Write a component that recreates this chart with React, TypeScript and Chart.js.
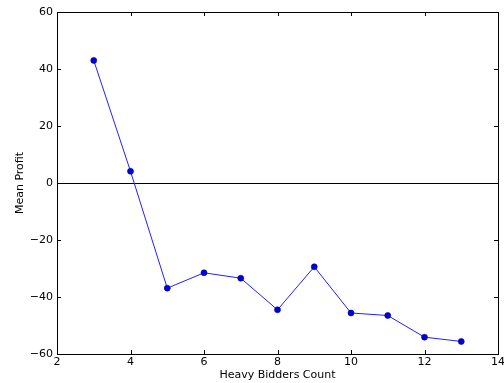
import React, { useEffect, useRef } from "react";
import { Chart, registerables } from "chart.js";

Chart.register(...registerables);

// Mean profit per number of heavy bidders
const bidderCounts = [3, 4, 5, 6, 7, 8, 9, 10, 11, 12, 13];
const meanProfit = [43.0, 4.1, -36.9, -31.5, -33.4, -44.5, -29.4, -45.6, -46.5, -54.1, -55.6];
const xTicks = [2, 4, 6, 8, 10, 12, 14];
const yTicks = [-60, -40, -20, 0, 20, 40, 60];

const FONT = "'DejaVu Sans', sans-serif";
const fmt = (v: number) => (v < 0 ? "\u2212" + Math.abs(v) : String(v));

// Frame, inward tick marks on every side and the zero reference line
const framePlugin = {
  id: "frame",
  afterDatasetsDraw(chart: any) {
    const { ctx, chartArea: a, scales } = chart;
    const xs = scales.x;
    const ys = scales.y;
    ctx.save();
    ctx.strokeStyle = "#000";
    ctx.lineWidth = 1;
    const tl = 4;
    ctx.beginPath();
    for (const v of xTicks) {
      const px = Math.round(xs.getPixelForValue(v)) + 0.5;
      ctx.moveTo(px, a.bottom);
      ctx.lineTo(px, a.bottom - tl);
      ctx.moveTo(px, a.top);
      ctx.lineTo(px, a.top + tl);
    }
    for (const v of yTicks) {
      const py = Math.round(ys.getPixelForValue(v)) + 0.5;
      ctx.moveTo(a.left, py);
      ctx.lineTo(a.left + tl, py);
      ctx.moveTo(a.right, py);
      ctx.lineTo(a.right - tl, py);
    }
    ctx.stroke();
    ctx.strokeRect(Math.round(a.left) + 0.5, Math.round(a.top) + 0.5, Math.round(a.right - a.left), Math.round(a.bottom - a.top));
    ctx.restore();
  },
  beforeDatasetsDraw(chart: any) {
    const { ctx, chartArea: a, scales } = chart;
    const py = Math.round(scales.y.getPixelForValue(0)) + 0.5;
    ctx.save();
    ctx.strokeStyle = "#000";
    ctx.lineWidth = 1;
    ctx.beginPath();
    ctx.moveTo(a.left, py);
    ctx.lineTo(a.right, py);
    ctx.stroke();
    ctx.restore();
  },
};

export default function App() {
  const ref = useRef<HTMLCanvasElement | null>(null);

  useEffect(() => {
    if (!ref.current) return;
    const chart = new Chart(ref.current, {
      type: "line",
      data: {
        datasets: [
          {
            data: bidderCounts.map((x, i) => ({ x, y: meanProfit[i] })),
            borderColor: "#2020ff",
            borderWidth: 1,
            pointRadius: 3,
            pointBackgroundColor: "#0000dd",
            pointBorderColor: "#00008a",
            pointBorderWidth: 0.6,
            tension: 0,
            fill: false,
          },
        ],
      },
      options: {
        animation: false,
        responsive: false,
        events: [],
        layout: { padding: { top: 12, right: 6, left: 0, bottom: 0 } },
        plugins: { legend: { display: false }, tooltip: { enabled: false } },
        scales: {
          x: {
            type: "linear",
            min: 2,
            max: 14,
            afterBuildTicks: (s: any) => {
              s.ticks = xTicks.map((v) => ({ value: v }));
            },
            afterFit: (s: any) => {
              s.height = 29;
              s.paddingLeft = 0;
              s.paddingRight = 0;
            },
            grid: { display: false, drawTicks: false },
            border: { display: false },
            ticks: {
              color: "#000",
              padding: 2,
              maxRotation: 0,
              font: { family: FONT, size: 11 },
              callback: (v: any) => fmt(Number(v)),
            },
            title: {
              display: true,
              text: "Heavy Bidders Count",
              color: "#000",
              font: { family: FONT, size: 11 },
              padding: { top: 0, bottom: 1.5 },
            },
          },
          y: {
            type: "linear",
            min: -60,
            max: 60,
            afterBuildTicks: (s: any) => {
              s.ticks = yTicks.map((v) => ({ value: v }));
            },
            afterFit: (s: any) => {
              s.width = 57;
              s.paddingTop = 0;
              s.paddingBottom = 0;
            },
            grid: { display: false, drawTicks: false },
            border: { display: false },
            ticks: {
              color: "#000",
              padding: 4,
              font: { family: FONT, size: 11 },
              callback: (v: any) => fmt(Number(v)),
            },
            title: {
              display: true,
              text: "Mean Profit",
              color: "#000",
              font: { family: FONT, size: 11 },
              padding: { top: 14, bottom: 0 },
            },
          },
        },
      },
      plugins: [framePlugin],
    });
    return () => chart.destroy();
  }, []);

  return (
    <div style={{ position: "absolute", left: 0, top: 0, width: 504, height: 383, background: "#fff" }}>
      <canvas ref={ref} width={504} height={383} style={{ display: "block" }} />
    </div>
  );
}
